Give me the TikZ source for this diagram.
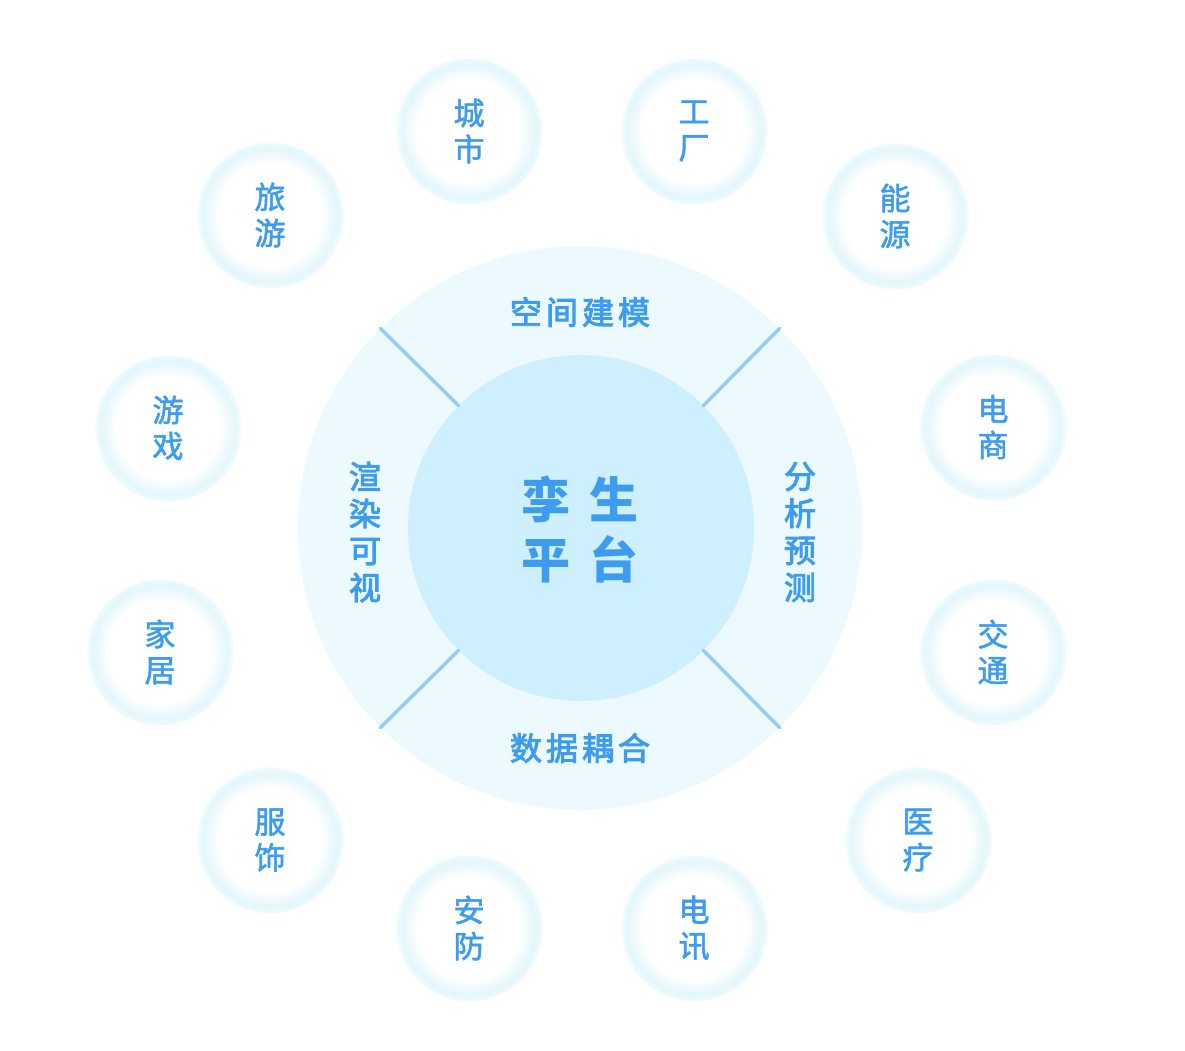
\documentclass[tikz,border=0pt]{standalone}
\usepackage{fontspec}
\newfontfamily\cjk{Noto Sans CJK SC}
\newfontfamily\cjkm[FakeBold=3]{Noto Sans CJK SC}
\newfontfamily\cjks[FakeBold=1.8]{Noto Sans CJK SC}
\definecolor{txt}{RGB}{62,156,240}
\definecolor{outerfill}{RGB}{236,249,254}
\definecolor{innerfill}{RGB}{206,239,253}
\definecolor{ringc}{RGB}{226,247,253}
\definecolor{ringe}{RGB}{236,250,254}
\definecolor{sepc}{RGB}{150,205,245}
\pgfdeclareradialshading{ringshade}{\pgfpoint{0cm}{0cm}}{%
  color(0bp)=(white); color(17.5bp)=(white); color(22.5bp)=(ringc); color(24.3bp)=(ringe); color(25bp)=(white); color(50bp)=(white)}
\tikzset{
  app/.style={circle, minimum size=148pt, inner sep=0pt, shade, shading=ringshade,
    text=txt, align=center, font=\cjks\fontsize{31}{36}\selectfont},
  ringlabel/.style={text=txt, font=\cjkm\fontsize{32}{37}\selectfont, align=center, inner sep=0pt},
  sepline/.style={draw=sepc, line width=3.5pt, line cap=round}
}
\begin{document}
\begin{tikzpicture}[x=1pt,y=-1pt]
\useasboundingbox (0,0) rectangle (1185,1050);
\fill[white] (0,0) rectangle (1185,1050);
% big circles
\node[circle, fill=outerfill, minimum size=564pt, inner sep=0pt] (outer) at (580,528) {};
\node[circle, fill=innerfill, minimum size=346pt, inner sep=0pt] (inner) at (581,528) {};
\draw[sepline] (inner.45) -- (outer.45);
\draw[sepline] (inner.135) -- (outer.135);
\draw[sepline] (inner.225) -- (outer.225);
\draw[sepline] (inner.315) -- (outer.315);
% center text
\node[text=txt, font=\cjk\bfseries\fontsize{49}{60}\selectfont, align=center, inner sep=0pt] (core) at (580,530) {孪\hspace{20pt}生\\平\hspace{20pt}台};
% ring labels
\node[ringlabel] (top) at (580,312) {空\hspace{4pt}间\hspace{4pt}建\hspace{4pt}模};
\node[ringlabel] (bottom) at (580,748) {数\hspace{4pt}据\hspace{4pt}耦\hspace{4pt}合};
\node[ringlabel] (left) at (365,532) {渲\\染\\可\\视};
\node[ringlabel] (right) at (800,532) {分\\析\\预\\测};
% application circles
\node[app] (c1) at (469,131) {城\\市};
\node[app] (c2) at (694,131) {工\\厂};
\node[app] (c3) at (895,216) {能\\源};
\node[app] (c4) at (993,427) {电\\商};
\node[app] (c5) at (993,652) {交\\通};
\node[app] (c6) at (918,840) {医\\疗};
\node[app] (c7) at (694,928) {电\\讯};
\node[app] (c8) at (469,928) {安\\防};
\node[app] (c9) at (270,840) {服\\饰};
\node[app] (c10) at (160,652) {家\\居};
\node[app] (c11) at (168,428) {游\\戏};
\node[app] (c12) at (270,215) {旅\\游};
\end{tikzpicture}
\end{document}
